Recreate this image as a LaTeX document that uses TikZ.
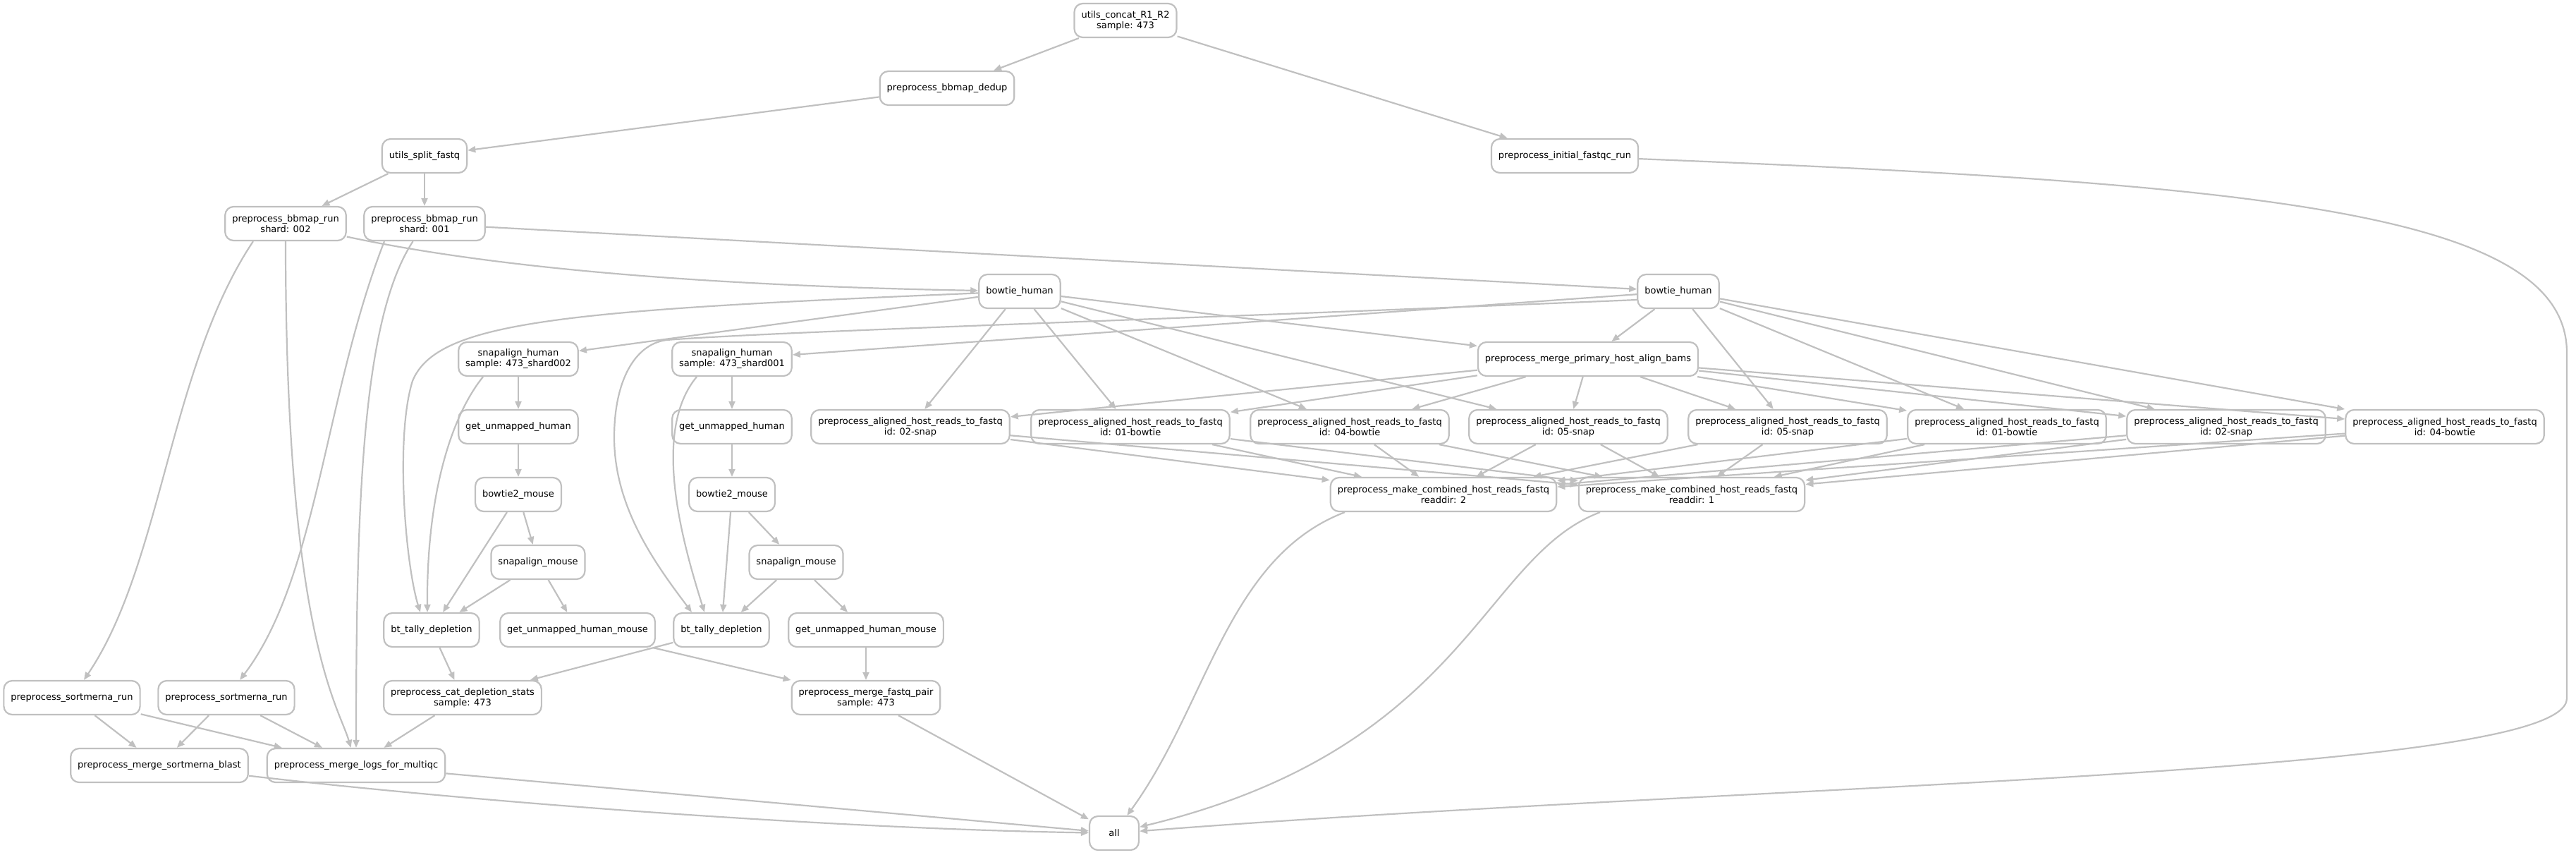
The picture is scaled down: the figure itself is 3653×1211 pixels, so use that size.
\documentclass[tikz,border=0pt]{standalone}
\usepackage{fontspec}
\setmainfont{DejaVu Sans}
\usepackage{xcolor}
\usepackage{tikz}
\usetikzlibrary{arrows.meta}
\definecolor{linegray}{RGB}{192,192,192}

\begin{document}
\begin{tikzpicture}[x=1pt, y=-1pt,
    box/.style={draw=linegray, line width=2.2pt, rounded corners=12pt, fill=white, minimum height=48pt, minimum width=70pt, inner xsep=10pt, inner ysep=2pt, align=center, font=\fontsize{13}{15}\selectfont},
    edge/.style={draw=linegray, line width=2.2pt, -{Triangle[length=11pt,width=9pt]}}]
  \useasboundingbox (0,0) rectangle (3653,1211);

  \node[box] (concat) at (1596,29) {utils\_concat\_R1\_R2\\sample: 473};
  \node[box] (dedup) at (1343,125) {preprocess\_bbmap\_dedup};
  \node[box] (split) at (602,221) {utils\_split\_fastq};
  \node[box] (fastqc) at (2219,221) {preprocess\_initial\_fastqc\_run};
  \node[box] (bb2) at (405,317) {preprocess\_bbmap\_run\\shard: 002};
  \node[box] (bb1) at (602,317) {preprocess\_bbmap\_run\\shard: 001};
  \node[box] (btL) at (1446,413) {bowtie\_human};
  \node[box] (btR) at (2380,413) {bowtie\_human};
  \node[box] (snapL) at (735,509) {snapalign\_human\\sample: 473\_shard002};
  \node[box] (snapR) at (1038,509) {snapalign\_human\\sample: 473\_shard001};
  \node[box] (merge) at (2252,509) {preprocess\_merge\_primary\_host\_align\_bams};
  \node[box] (unL) at (735,605) {get\_unmapped\_human};
  \node[box] (unR) at (1038,605) {get\_unmapped\_human};
  \node[box] (al1) at (1291,605) {preprocess\_aligned\_host\_reads\_to\_fastq\\id: 02-snap};
  \node[box] (al2) at (1603,605) {preprocess\_aligned\_host\_reads\_to\_fastq\\id: 01-bowtie};
  \node[box] (al3) at (1914,605) {preprocess\_aligned\_host\_reads\_to\_fastq\\id: 04-bowtie};
  \node[box] (al4) at (2224,605) {preprocess\_aligned\_host\_reads\_to\_fastq\\id: 05-snap};
  \node[box] (al5) at (2535,605) {preprocess\_aligned\_host\_reads\_to\_fastq\\id: 05-snap};
  \node[box] (al6) at (2846,605) {preprocess\_aligned\_host\_reads\_to\_fastq\\id: 01-bowtie};
  \node[box] (al7) at (3157,605) {preprocess\_aligned\_host\_reads\_to\_fastq\\id: 02-snap};
  \node[box] (al8) at (3467,605) {preprocess\_aligned\_host\_reads\_to\_fastq\\id: 04-bowtie};
  \node[box] (bmL) at (735,701) {bowtie2\_mouse};
  \node[box] (bmR) at (1038,701) {bowtie2\_mouse};
  \node[box] (comb2) at (2047,701) {preprocess\_make\_combined\_host\_reads\_fastq\\readdir: 2};
  \node[box] (comb1) at (2399,701) {preprocess\_make\_combined\_host\_reads\_fastq\\readdir: 1};
  \node[box] (smL) at (763,797) {snapalign\_mouse};
  \node[box] (smR) at (1129,797) {snapalign\_mouse};
  \node[box] (tallyL) at (612,893) {bt\_tally\_depletion};
  \node[box] (humL) at (819,893) {get\_unmapped\_human\_mouse};
  \node[box] (tallyR) at (1023,893) {bt\_tally\_depletion};
  \node[box] (humR) at (1228,893) {get\_unmapped\_human\_mouse};
  \node[box] (sortL) at (102,989) {preprocess\_sortmerna\_run};
  \node[box] (sortR) at (321,989) {preprocess\_sortmerna\_run};
  \node[box] (cat) at (656,989) {preprocess\_cat\_depletion\_stats\\sample: 473};
  \node[box] (pair) at (1228,989) {preprocess\_merge\_fastq\_pair\\sample: 473};
  \node[box] (blast) at (226,1085) {preprocess\_merge\_sortmerna\_blast};
  \node[box] (logs) at (505,1085) {preprocess\_merge\_logs\_for\_multiqc};
  \node[box] (all) at (1580,1181) {all};

  \draw[edge] (concat) -- (dedup);
  \draw[edge] (concat) -- (fastqc);
  \draw[edge] (dedup) -- (split);
  \draw[edge] (split) -- (bb2);
  \draw[edge] (split) -- (bb1);

  \draw[edge] (bb2) .. controls (700,380) and (1000,405) .. (btL);
  \draw[edge] (bb1) -- (btR);
  \draw[edge] ([xshift=-46pt]bb2.south) .. controls (240,520) and (230,800) .. (sortL);
  \draw[edge] (bb2) .. controls (405,900) and (480,1000) .. (logs);
  \draw[edge] ([xshift=-57pt]bb1.south) .. controls (460,560) and (450,820) .. (sortR);
  \draw[edge] (bb1) .. controls (515,450) and (505,700) .. (logs);

  \draw[edge] (btL) -- (snapL);
  \draw[edge] (btL) .. controls (800,440) and (620,455) .. (585,540) .. controls (560,620) and (575,800) .. ([xshift=-16pt]tallyL.north);
  \draw[edge] (btL) -- (merge);
  \draw[edge] (btL) -- (al1);
  \draw[edge] (btL) -- (al2);
  \draw[edge] (btL) -- (al3);
  \draw[edge] (btL) -- (al4);
  \draw[edge] (btR) -- (snapR);
  \draw[edge] ([yshift=-12pt]btR.west) .. controls (1600,455) and (1100,470) .. (945,482) .. controls (900,488) and (871,540) .. (871,620) .. controls (871,720) and (930,800) .. ([xshift=-42pt]tallyR.north);
  \draw[edge] (btR) -- (merge);
  \draw[edge] (btR) -- (al5);
  \draw[edge] (btR) -- (al6);
  \draw[edge] (btR) -- (al7);
  \draw[edge] (btR) -- (al8);

  \draw[edge] (snapL) -- (unL);
  \draw[edge] ([xshift=-50pt]snapL.south) .. controls (640,590) and (605,700) .. ([xshift=-6pt]tallyL.north);
  \draw[edge] (snapR) -- (unR);
  \draw[edge] ([xshift=-50pt]snapR.south) .. controls (925,610) and (965,760) .. ([xshift=-24pt]tallyR.north);
  \draw[edge] (unL) -- (bmL);
  \draw[edge] (unR) -- (bmR);
  \draw[edge] (bmL) -- (smL);
  \draw[edge] (bmL) -- (tallyL);
  \draw[edge] (bmR) -- (smR);
  \draw[edge] (bmR) -- (tallyR);
  \draw[edge] (smL) -- (tallyL);
  \draw[edge] (smL) -- (humL);
  \draw[edge] (smR) -- (tallyR);
  \draw[edge] (smR) -- (humR);
  \draw[edge] (tallyL) -- (cat);
  \draw[edge] (tallyR) -- (cat);
  \draw[edge] (humL) -- (pair);
  \draw[edge] (humR) -- (pair);

  \draw[edge] (merge) -- (al1);
  \draw[edge] (merge) -- (al2);
  \draw[edge] (merge) -- (al3);
  \draw[edge] (merge) -- (al4);
  \draw[edge] (merge) -- (al5);
  \draw[edge] (merge) -- (al6);
  \draw[edge] (merge) -- (al7);
  \draw[edge] (merge) -- (al8);

  \draw[edge] (al1) -- (comb2);
  \draw[edge] (al1) -- (comb1);
  \draw[edge] (al2) -- (comb2);
  \draw[edge] (al2) -- (comb1);
  \draw[edge] (al3) -- (comb2);
  \draw[edge] (al3) -- (comb1);
  \draw[edge] (al4) -- (comb2);
  \draw[edge] (al4) -- (comb1);
  \draw[edge] (al5) -- (comb2);
  \draw[edge] (al5) -- (comb1);
  \draw[edge] (al6) -- (comb2);
  \draw[edge] (al6) -- (comb1);
  \draw[edge] (al7) -- (comb2);
  \draw[edge] (al7) -- (comb1);
  \draw[edge] (al8) -- (comb2);
  \draw[edge] (al8) -- (comb1);

  \draw[edge] ([xshift=-140pt]comb2.south) .. controls (1740,790) and (1712,1000) .. (all);
  \draw[edge] ([xshift=-130pt]comb1.south) .. controls (2100,790) and (2080,1060) .. (all);
  \draw[edge] (fastqc) .. controls (3200,260) and (3640,300) .. (3640,500) -- (3640,990) .. controls (3640,1100) and (2500,1110) .. (all);
  \draw[edge] (pair) -- (all);

  \draw[edge] (sortL) -- (blast);
  \draw[edge] (sortL) -- (logs);
  \draw[edge] (sortR) -- (blast);
  \draw[edge] (sortR) -- (logs);
  \draw[edge] (cat) -- (logs);
  \draw[edge] (blast) .. controls (700,1140) and (1200,1175) .. (all);
  \draw[edge] (logs) -- (all);
\end{tikzpicture}
\end{document}
